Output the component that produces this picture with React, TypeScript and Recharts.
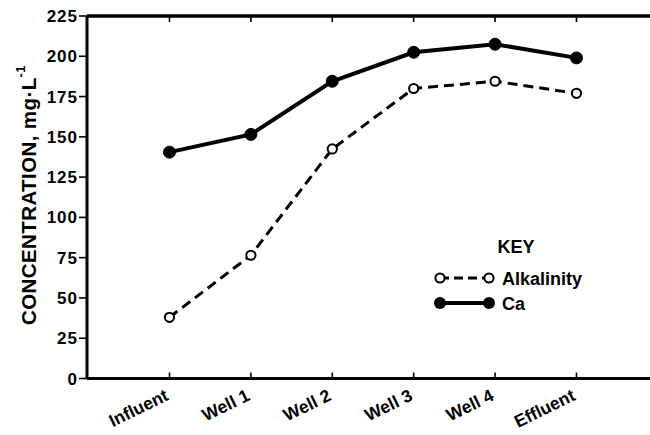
import React from 'react';
import { LineChart, Line, XAxis, YAxis, Legend, ReferenceLine } from 'recharts';

const categories = ['Influent', 'Well 1', 'Well 2', 'Well 3', 'Well 4', 'Effluent'];
const alkalinity = [38, 76.5, 142.5, 180, 184.5, 177];
const calcium = [140.5, 151.5, 184.5, 202.5, 207.5, 199];
const yTicks = [0, 25, 50, 75, 100, 125, 150, 175, 200, 225];
const xTicks = [0, 1, 2, 3, 4, 5];
const seriesNames = ['Alkalinity', 'Ca'];

const data = categories.map((c, i) => ({ x: i, name: c, alk: alkalinity[i], ca: calcium[i] }));

const FONT = '"Liberation Sans", Arial, Helvetica, sans-serif';
const X_DOMAIN: [number, number] = [-1.0135, 7.009];
const Y_DOMAIN: [number, number] = [0, 225];

const OpenDot = (props: any) => {
  const { cx, cy } = props;
  return <circle cx={cx} cy={cy} r={4.6} fill="#fff" stroke="#000" strokeWidth={2} />;
};
const FilledDot = (props: any) => {
  const { cx, cy } = props;
  return <circle cx={cx} cy={cy} r={6} fill="#000" stroke="#000" />;
};

const XTick = (props: any) => {
  const { x, y, payload } = props;
  const ty = y + 21;
  return (
    <text x={x} y={ty} transform={`rotate(-26 ${x} ${ty})`} textAnchor="end"
      fontFamily={FONT} fontWeight="bold" fontSize={17.5} fill="#000">
      {categories[payload.value]}
    </text>
  );
};

const YLabel = () => {
  const cx = 28;
  const cy = 195;
  return (
    <text x={cx} y={cy} transform={`rotate(-90 ${cx} ${cy})`} textAnchor="middle" dominantBaseline="central"
      fontFamily={FONT} fontWeight="bold" fontSize={20.5} letterSpacing={0.4} fill="#000">
      CONCENTRATION, mg·L<tspan dy={-8} fontSize={13}>-1</tspan>
    </text>
  );
};

const KeyLegend = () => (
  <svg width={200} height={90} style={{ display: 'block' }}>
    <text x={88} y={20} textAnchor="middle" fontFamily={FONT} fontWeight="bold" fontSize={18} fill="#000">KEY</text>
    <line x1={12} y1={45} x2={61} y2={45} stroke="#000" strokeWidth={3} strokeDasharray="9 5" />
    <circle cx={12} cy={45} r={4.6} fill="#fff" stroke="#000" strokeWidth={2} />
    <circle cx={61} cy={45} r={4.6} fill="#fff" stroke="#000" strokeWidth={2} />
    <text x={74} y={52} fontFamily={FONT} fontWeight="bold" fontSize={18} fill="#000">{seriesNames[0]}</text>
    <line x1={12} y1={70} x2={61} y2={70} stroke="#000" strokeWidth={4} />
    <circle cx={12} cy={70} r={6} fill="#000" />
    <circle cx={61} cy={70} r={6} fill="#000" />
    <text x={74} y={77} fontFamily={FONT} fontWeight="bold" fontSize={18} fill="#000">{seriesNames[1]}</text>
  </svg>
);

export default function App() {
  return (
    <div style={{ position: 'fixed', left: 0, top: 0, width: 650, height: 435, overflow: 'hidden', background: '#fff' }}>
      <LineChart width={740} height={435} data={data} margin={{ top: 16, right: 0, left: 27, bottom: 6.5 }}>
        <XAxis xAxisId="b" dataKey="x" type="number" domain={X_DOMAIN} ticks={xTicks} allowDataOverflow
          height={1} mirror axisLine={{ stroke: '#000', strokeWidth: 3 }}
          tickLine={{ stroke: '#000', strokeWidth: 1.6 }} tickSize={6} tickFormatter={() => ''} />
        <XAxis xAxisId="lbl" dataKey="x" type="number" domain={X_DOMAIN} ticks={xTicks} allowDataOverflow
          height={50} axisLine={false} tickLine={false} tickSize={0} tickMargin={0}
          tick={<XTick />} interval={0} />
        <XAxis xAxisId="t" orientation="top" dataKey="x" type="number" domain={X_DOMAIN} ticks={xTicks} allowDataOverflow
          height={1} mirror axisLine={{ stroke: '#000', strokeWidth: 3 }}
          tickLine={{ stroke: '#000', strokeWidth: 1.6 }} tickSize={6} tickFormatter={() => ''} />
        <YAxis domain={Y_DOMAIN} ticks={yTicks} width={60} interval={0}
          axisLine={{ stroke: '#000', strokeWidth: 3 }} tickLine={{ stroke: '#000', strokeWidth: 1.6 }}
          tickSize={8} tickMargin={1}
          tick={{ fontFamily: FONT, fontWeight: 'bold', fontSize: 17, letterSpacing: 1, fill: '#000' }}
          label={<YLabel />} />
        <ReferenceLine xAxisId="b" y={Y_DOMAIN[1]} stroke="#000" strokeWidth={3} ifOverflow="visible" />
        <ReferenceLine xAxisId="b" y={Y_DOMAIN[0]} stroke="#000" strokeWidth={3} ifOverflow="visible" />
        <Legend content={<KeyLegend />} layout="vertical" verticalAlign="middle" align="center"
          wrapperStyle={{ position: 'absolute', left: 428, top: 233, width: 200 }} />
        <Line xAxisId="b" dataKey="alk" stroke="#000" strokeWidth={3} strokeDasharray="10 6"
          dot={<OpenDot />} isAnimationActive={false} />
        <Line xAxisId="b" dataKey="ca" stroke="#000" strokeWidth={4}
          dot={<FilledDot />} isAnimationActive={false} />
      </LineChart>
    </div>
  );
}
